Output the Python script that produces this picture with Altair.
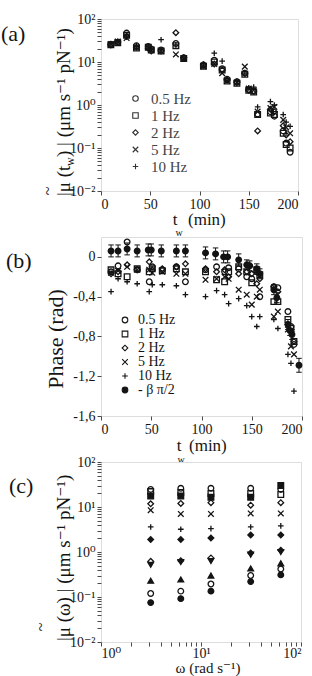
import altair as alt
import pandas as pd

FONT = "Liberation Serif, DejaVu Serif, serif"
INK = "#141414"
FRAME = "#4a4a4a"

X_PATH = "M-1,-1L1,1M-1,1L1,-1"
PLUS_PATH = "M-1,0L1,0M0,-1L0,1"

# ---------------- panel (a): |mu(t_w)| ----------------
freqs = ["0.5 Hz", "1 Hz", "2 Hz", "5 Hz", "10 Hz"]
freq_shapes = ["circle", "square", "diamond", X_PATH, PLUS_PATH]

t_a = [10, 17, 26, 36, 48, 51, 61, 76, 84, 104, 115, 123, 128, 138, 146, 150, 155, 159, 172, 176, 185, 188, 192]
mag_05 = [26, 29, 47, 24, 23, 20, 19, 27, 12.5, 8.5, 11, 7, 4.0, 3.5, 5.5, 2.3, 2.1, 0.62, 0.70, 0.55, 0.25, 0.13, 0.08]
mag_1 = [25, 28, 42, 21, 22, 19, 18, 24, 12, 8, 10, 6.5, 3.6, 3.2, 5.2, 2.2, 2.0, 0.60, 0.65, 0.60, 0.22, 0.12, 0.10]
mag_2 = [25, 29, 40, 22, 21, 18, 18, 48, 12.5, 8.5, 9, 6.5, 3.8, 3.3, 5.5, 2.2, 2.1, 0.25, 0.80, 0.70, 0.33, 0.20, 0.14]
mag_5 = [26, 30, 36, 22, 22, 19, 18, 15, 12, 8, 9, 5.5, 3.6, 3.3, 7.8, 2.4, 2.2, 0.70, 0.85, 0.90, 0.45, 0.30, 0.22]
mag_10 = [26, 30, 38, 24, 23, 20, 33, 25, 12.5, 9, 16, 10.5, 3.8, 3.6, 5.5, 2.5, 2.6, 0.90, 1.2, 1.0, 0.60, 0.40, 0.32]

# ---------------- panel (b): phase ----------------
t_b = [10, 17, 26, 36, 48, 51, 61, 75, 84, 104, 115, 123, 127, 137, 145, 150, 155, 158, 172, 176, 186, 189, 192]
ph_05 = [-0.15, -0.09, 0.15, -0.13, -0.25, -0.10, -0.13, -0.10, -0.25, -0.13, -0.10, -0.15, -0.11, -0.12, -0.20, -0.22, -0.15, -0.40, -0.30, -0.31, -0.55, -0.70, -0.88]
ph_1 = [-0.13, -0.17, -0.20, -0.12, -0.15, -0.12, -0.14, -0.12, -0.15, -0.15, -0.23, -0.25, -0.15, -0.10, -0.15, -0.26, -0.13, -0.18, -0.45, -0.45, -0.63, -0.72, -0.85]
ph_2 = [-0.17, -0.15, -0.08, -0.13, -0.05, -0.13, -0.12, -0.10, -0.07, -0.12, -0.15, -0.13, -0.20, -0.17, -0.15, -0.17, -0.27, -0.22, -0.30, -0.35, -0.68, -0.75, -0.85]
ph_5 = [-0.16, -0.14, -0.10, -0.13, -0.13, -0.16, -0.15, -0.17, -0.17, -0.23, -0.22, -0.20, -0.22, -0.33, -0.38, -0.48, -0.40, -0.33, -0.60, -0.55, -0.73, -0.90, -0.98]
ph_10 = [-0.35, -0.22, -0.25, -0.27, -0.35, -0.28, -0.28, -0.29, -0.38, -0.40, -0.34, -0.38, -0.47, -0.42, -0.49, -0.60, -0.70, -0.60, -0.63, -0.72, -0.98, -1.07, -1.35]

beta_name = "- β π/2"
t_beta = [10, 17, 26, 36, 47, 50, 60, 75, 84, 104, 114, 122, 126, 137, 145, 148, 155, 158, 172, 175, 186, 188, 190, 197]
ph_beta = [0.06, 0.06, 0.08, 0.06, 0.07, 0.07, 0.06, 0.06, 0.06, 0.04, 0.03, 0.0, 0.0, -0.03, -0.08, -0.09, -0.12, -0.17, -0.33, -0.41, -0.68, -0.74, -0.78, -1.09]
err_beta = [0.06, 0.06, 0.06, 0.06, 0.06, 0.06, 0.06, 0.06, 0.06, 0.06, 0.06, 0.06, 0.06, 0.06, 0.05, 0.05, 0.05, 0.05, 0.05, 0.05, 0.05, 0.05, 0.05, 0.07]

# ---------------- panel (c): |mu(omega)| ----------------
omega = [3.14, 6.28, 12.57, 31.4, 62.8]
c_ids = ["c1", "c2", "c3", "c4", "c5", "c6", "c7", "c8", "c9", "c10", "c11", "c12"]
c_shapes = ["circle", "square", "square", "diamond", X_PATH, PLUS_PATH, "diamond", "diamond", "triangle-down", "triangle-up", "circle", "circle"]
c_fills = ["transparent", "transparent", INK, "transparent", "transparent", "transparent", INK, "transparent", INK, INK, "transparent", INK]
c_vals = [
    [24.6, 26, 26, 26, 24.6],
    [22, 21, 20, 20, 19],
    [17.5, 17.5, 16.5, 16.5, 30],
    [11.8, 12, 12.5, 11, 12.5],
    [8.5, 7.0, 7.0, 7.2, 7.2],
    [3.6, 3.2, 3.3, 3.6, 3.8],
    [1.9, 1.9, 2.05, 2.4, 2.4],
    [0.62, 0.64, 0.74, 0.95, 1.1],
    [0.52, 0.60, 0.63, 0.87, 1.0],
    [0.23, 0.245, 0.30, 0.43, 0.56],
    [0.12, 0.135, 0.195, 0.30, 0.42],
    [0.075, 0.092, 0.135, 0.22, 0.31],
]

# ---------------- tables ----------------
rows = []
for name, vals in zip(freqs, [mag_05, mag_1, mag_2, mag_5, mag_10]):
    for t, v in zip(t_a, vals):
        rows.append({"t": t, "v": v, "s": name})
df_a = pd.DataFrame(rows)

rows = []
for name, vals in zip(freqs, [ph_05, ph_1, ph_2, ph_5, ph_10]):
    for t, v in zip(t_b, vals):
        rows.append({"t": t, "v": v, "s": name})
for t, v in zip(t_beta, ph_beta):
    rows.append({"t": t, "v": v, "s": beta_name})
df_b = pd.DataFrame(rows)
df_err = pd.DataFrame({"t": t_beta,
                       "lo": [v - e for v, e in zip(ph_beta, err_beta)],
                       "hi": [v + e for v, e in zip(ph_beta, err_beta)]})

rows = []
for cid, vals in zip(c_ids, c_vals):
    for w, v in zip(omega, vals):
        rows.append({"w": w, "v": v, "s": cid})
df_c = pd.DataFrame(rows)

# ---------------- helpers ----------------
log_major = [0.01, 0.1, 1, 10, 100]
log_minor = [round(k * d, 6) for d in [0.01, 0.1, 1, 10] for k in range(2, 10)]
log_label = ("datum.value == 100 ? '10²' : datum.value == 10 ? '10¹' : datum.value == 1 ? '10⁰' : "
             "datum.value == 0.1 ? '10⁻¹' : datum.value == 0.01 ? '10⁻²' : ''")

axis_common = dict(title=None, domain=False, ticks=True, tickSize=4, tickColor=FRAME,
                   labelFont=FONT, labelFontSize=14, labelColor=INK, grid=False,
                   labelOverlap=False)


def txt(s, x, y, size, angle=0, align="left", color=INK):
    return alt.Chart(pd.DataFrame({"s": [s]})).mark_text(
        font=FONT, fontSize=size, angle=angle, align=align, baseline="middle", color=color
    ).encode(text="s:N", x=alt.value(x), y=alt.value(y))


W_A, H_A = 197, 172
W_B, H_B = 201, 179
W_C, H_C = 200, 180
MS = 32      # marker size
SW = 1.3     # marker stroke width

# ---------------- panel (a) chart ----------------
x_t_a = alt.X("t:Q", scale=alt.Scale(domain=[0, 200], nice=False),
              axis=alt.Axis(values=[0, 50, 100, 150, 200], labelPadding=2, **axis_common))
y_log_a = alt.Y("v:Q", scale=alt.Scale(type="log", domain=[0.01, 100], nice=False),
                axis=alt.Axis(values=log_major + log_minor, labelExpr=log_label, labelPadding=2, **axis_common))

pts_a = alt.Chart(df_a).mark_point(size=MS, strokeWidth=SW, color=INK, filled=False, opacity=1).encode(
    x=x_t_a, y=y_log_a,
    shape=alt.Shape("s:N", scale=alt.Scale(domain=freqs, range=freq_shapes),
                    legend=alt.Legend(title=None, orient="none", legendX=27, legendY=72,
                                      labelFont=FONT, labelFontSize=15, labelColor="#444",
                                      symbolSize=30, symbolStrokeColor="#333", symbolStrokeWidth=1.1,
                                      symbolFillColor="transparent", symbolOpacity=1,
                                      labelOffset=8, rowPadding=1, padding=0)),
)

panel_a = alt.layer(
    pts_a,
    txt("(a)", -100, 15, 22),
    txt("~", -53, 172, 16, angle=270, align="center"),
    txt("|μ (t", -37, 177, 19, angle=270),
    txt("w", -31, 147, 12, angle=270),
    txt(") | (μm s⁻¹ pN⁻¹)", -37, 138, 19, angle=270),
    txt("t", 74, H_A + 29, 17, align="center"),
    txt("w", 78, H_A + 42, 10, align="center"),
    txt("(min)", 87, H_A + 29, 17),
).properties(width=W_A, height=H_A)

# ---------------- panel (b) chart ----------------
x_t_b = alt.X("t:Q", scale=alt.Scale(domain=[0, 200], nice=False),
              axis=alt.Axis(values=[0, 50, 100, 150, 200], labelPadding=2, **axis_common))
ph_label = ("datum.value == 0 ? '0' : (abs(datum.value - round(datum.value / 0.4) * 0.4) < 0.001 ? "
            "'-' + replace(format(abs(datum.value), '.1f'), '.', ',') : '')")
y_ph = alt.Y("v:Q", scale=alt.Scale(domain=[-1.6, 0.2], nice=False),
             axis=alt.Axis(values=[0, -0.2, -0.4, -0.6, -0.8, -1.0, -1.2, -1.4, -1.6],
                           labelExpr=ph_label, labelPadding=2, **axis_common))

b_names = freqs + [beta_name]
b_shapes = freq_shapes + ["circle"]
b_fills = ["transparent"] * 5 + [INK]
b_strokes = [INK] * 6
b_sizes = [MS] * 5 + [50]


def leg_b():
    return alt.Legend(title=None, orient="none", legendX=17, legendY=76,
                      labelFont=FONT, labelFontSize=14, labelColor=INK,
                      symbolStrokeWidth=1.1, symbolOpacity=1,
                      labelOffset=6, rowPadding=0, padding=0)


pts_b = alt.Chart(df_b).mark_point(strokeWidth=SW, filled=False, opacity=1).encode(
    x=x_t_b, y=y_ph,
    shape=alt.Shape("s:N", scale=alt.Scale(domain=b_names, range=b_shapes), legend=leg_b()),
    fill=alt.Fill("s:N", scale=alt.Scale(domain=b_names, range=b_fills), legend=leg_b()),
    stroke=alt.Stroke("s:N", scale=alt.Scale(domain=b_names, range=b_strokes), legend=leg_b()),
    size=alt.Size("s:N", scale=alt.Scale(domain=b_names, range=b_sizes), legend=leg_b()),
)

err_rule = alt.Chart(df_err).mark_rule(color=INK, strokeWidth=1).encode(
    x=alt.X("t:Q"), y=alt.Y("lo:Q"), y2="hi:Q")
cap_lo = alt.Chart(df_err).mark_point(shape="stroke", size=30, color=INK, strokeWidth=1, opacity=1).encode(
    x="t:Q", y="lo:Q")
cap_hi = alt.Chart(df_err).mark_point(shape="stroke", size=30, color=INK, strokeWidth=1, opacity=1).encode(
    x="t:Q", y="hi:Q")

panel_b = alt.layer(
    pts_b, err_rule, cap_lo, cap_hi,
    txt("(b)", -95, 24, 22),
    txt("Phase  (rad)", -45, 102, 22, angle=270, align="center"),
    txt("t", 78, H_B + 30, 17, align="center"),
    txt("w", 80, H_B + 44, 10, align="center"),
    txt("(min)", 88, H_B + 30, 17),
).properties(width=W_B, height=H_B)

# ---------------- panel (c) chart ----------------
x_w = alt.X("w:Q", scale=alt.Scale(type="log", domain=[1, 100], nice=False),
            axis=alt.Axis(values=[1, 10, 100] + [k for k in range(2, 10)] + [10 * k for k in range(2, 10)],
                          labelExpr="datum.value == 1 ? '10⁰' : datum.value == 10 ? '10¹' : datum.value == 100 ? '10²' : ''",
                          labelPadding=0, **axis_common))
y_log_c = alt.Y("v:Q", scale=alt.Scale(type="log", domain=[0.01, 100], nice=False),
                axis=alt.Axis(values=log_major + log_minor, labelExpr=log_label, labelPadding=2, **axis_common))

pts_c = alt.Chart(df_c).mark_point(size=MS, strokeWidth=SW, color=INK, filled=False, opacity=1).encode(
    x=x_w, y=y_log_c,
    shape=alt.Shape("s:N", scale=alt.Scale(domain=c_ids, range=c_shapes), legend=None),
    fill=alt.Fill("s:N", scale=alt.Scale(domain=c_ids, range=c_fills), legend=None),
)

panel_c = alt.layer(
    pts_c,
    txt("(c)", -92, 24, 22),
    txt("~", -60, 165, 16, angle=270, align="center"),
    txt("|μ (ω) | (μm s⁻¹ pN⁻¹)", -37, 179, 19, angle=270),
    txt("ω (rad s⁻¹)", 107, H_C + 26, 15, align="center"),
).properties(width=W_C, height=H_C)

chart = alt.vconcat(panel_a, panel_b, panel_c, spacing=46, bounds="flush").resolve_scale(
    x="independent", y="independent", shape="independent", fill="independent",
    size="independent", stroke="independent"
).properties(
    padding={"left": 0, "top": 11, "right": 0, "bottom": 0}
).configure_view(stroke=FRAME, strokeWidth=1.2).configure(background="white")

chart.save("out.html", embed_options={"renderer": "svg", "actions": False})
